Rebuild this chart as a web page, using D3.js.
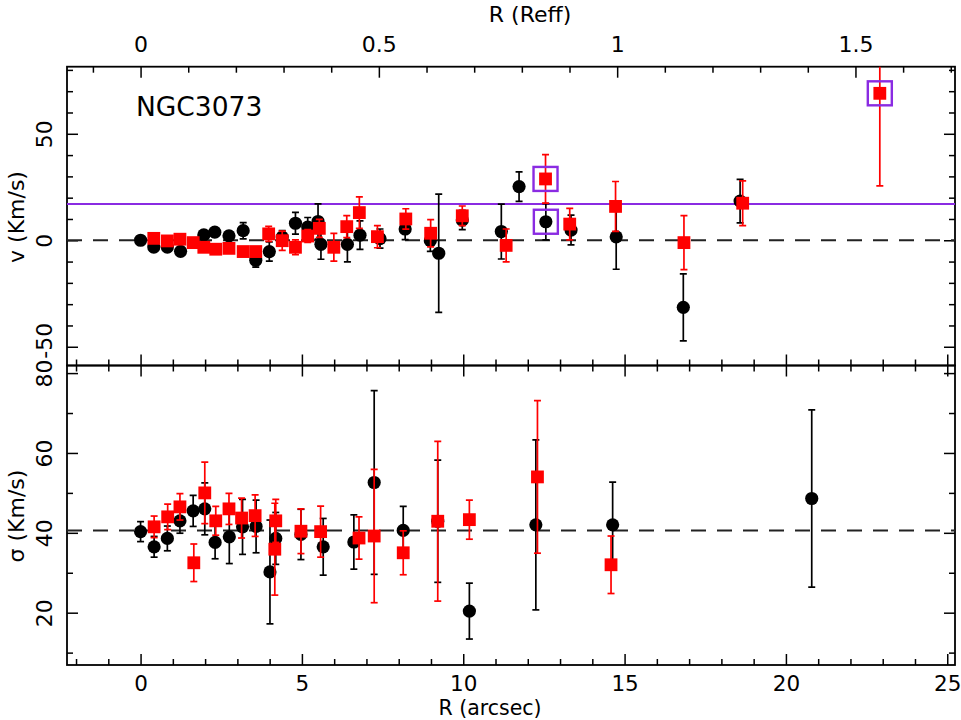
<!DOCTYPE html>
<html>
<head>
<meta charset="utf-8">
<script src="https://cdn.jsdelivr.net/npm/d3@7"></script>
<style>
  html, body { margin: 0; padding: 0; background: #fff; }
  svg { display: block; }
  text { font-family: "DejaVu Sans", sans-serif; fill: #000; }
</style>
</head>
<body>
<svg id="chart" width="961" height="720"></svg>
<script>
// ---------------- data ----------------
const galaxyName = "NGC3073";
const reffArcsec = 14.77;          // 1 Reff in arcsec
const vSystemic = 17;              // purple reference line (km/s)
const vZero = 0;                   // dashed line, top panel
const sigmaMean = 40.6;            // dashed line, bottom panel

// top panel: velocity, black circles
const vBlackR   = [0.00, 0.41, 0.83, 1.24, 1.96, 2.30, 2.74, 3.18, 3.57, 3.99, 4.39, 4.80, 5.18, 5.50, 5.59, 6.41, 6.80, 7.42, 8.20, 8.98, 9.24, 9.97, 11.18, 11.73, 12.56, 13.34, 14.74, 16.82, 18.58];
const vBlack    = [0.0, -3.2, -3.2, -5.2, 2.5, 3.8, 2.1, 4.5, -9.4, -5.3, 1.5, 8.0, 6.2, 8.8, -1.9, -1.9, 2.4, 0.8, 5.3, -0.2, -6.1, 9.5, 4.1, 25.2, 8.7, 4.8, 1.6, -31.5, 18.4];
const vBlackErr = [2.0, 2.0, 2.0, 2.0, 2.0, 2.0, 2.0, 3.8, 3.2, 4.5, 3.0, 5.1, 4.5, 8.3, 7.0, 8.2, 6.7, 4.5, 5.0, 5.0, 27.8, 4.5, 12.9, 6.9, 8.5, 7.0, 15.2, 15.7, 10.2];

// top panel: velocity, red squares
const vRedR   = [0.41, 0.83, 1.22, 1.63, 1.96, 2.33, 2.74, 3.18, 3.57, 3.97, 4.39, 4.80, 5.18, 5.54, 5.99, 6.39, 6.78, 7.34, 8.22, 8.99, 9.97, 11.33, 12.55, 13.30, 14.72, 16.84, 18.66, 22.91];
const vRed    = [0.9, -0.3, 0.5, -1.1, -3.3, -4.2, -3.8, -5.3, -5.3, 3.0, -0.2, -3.3, 2.0, 5.6, -3.3, 6.4, 13.0, 1.7, 10.0, 3.3, 11.5, -2.4, 28.8, 7.6, 15.9, -1.1, 17.4, 69.0];
const vRedErr = [2.0, 2.0, 2.0, 2.0, 2.0, 2.0, 2.0, 2.0, 2.0, 3.5, 4.5, 3.5, 3.0, 4.2, 6.5, 5.2, 7.4, 5.2, 4.8, 6.4, 4.6, 7.7, 11.4, 7.4, 11.7, 12.7, 10.5, 43.5];

// highlighted points (purple boxes)
const boxR = [12.55, 12.56, 22.91];
const boxV = [28.8, 8.7, 69.0];

// bottom panel: dispersion, black circles
const sBlackR   = [0.00, 0.42, 0.83, 1.22, 1.63, 1.99, 2.31, 2.75, 3.16, 3.58, 4.01, 4.19, 4.97, 5.66, 6.61, 7.24, 8.14, 9.21, 10.19, 12.25, 14.63, 20.80];
const sBlack    = [40.3, 36.5, 38.6, 43.0, 45.5, 46.0, 37.6, 39.0, 41.5, 41.6, 30.2, 38.6, 39.6, 36.5, 37.7, 52.6, 40.6, 42.9, 20.4, 42.0, 42.0, 48.6];
const sBlackErr = [2.5, 2.6, 3.1, 3.1, 3.9, 6.5, 4.1, 6.7, 6.9, 6.6, 13.0, 6.5, 6.3, 7.1, 6.8, 23.0, 6.0, 15.3, 7.0, 21.3, 10.7, 22.2];

// bottom panel: dispersion, red squares
const sRedR   = [0.42, 0.84, 1.22, 1.65, 1.99, 2.33, 2.74, 3.13, 3.55, 4.16, 4.19, 4.97, 5.58, 6.77, 7.24, 8.14, 9.21, 10.19, 12.30, 14.58];
const sRed    = [41.5, 44.0, 46.5, 32.5, 50.0, 43.0, 46.0, 43.7, 44.3, 35.9, 43.0, 40.4, 40.3, 38.7, 39.2, 35.0, 42.9, 43.3, 54.0, 32.0];
const sRedErr = [2.7, 3.2, 3.3, 4.7, 7.7, 3.6, 3.9, 5.0, 5.2, 11.5, 5.4, 5.6, 6.4, 5.3, 16.7, 5.5, 20.0, 4.9, 19.1, 7.2];

// tick values
const arcsecMinor = d3.range(-2, 26);
const arcsecMajor = [0, 5, 10, 15, 20, 25];
const reffMinor = d3.range(-1, 18).map(i => i / 10);
const reffMajor = [0, 0.5, 1, 1.5];
const vMinor = d3.range(-5, 9).map(i => i * 10);
const vMajor = [-50, 0, 50];
const sMinor = d3.range(1, 9).map(i => i * 10);
const sMajor = [20, 40, 60, 80];

// ---------------- layout ----------------
const L = 67, R = 955, T = 66.7, M = 365.5, B = 665;
const RED = "#ff0000", PURPLE = "#8a2be2";
const svg = d3.select("#chart");

const x = d3.scaleLinear().domain([-2.28, 25.24]).range([L, R]);
const xReff = d3.scaleLinear().domain([-2.28 / reffArcsec, 25.24 / reffArcsec]).range([L, R]);
const yTop = d3.scaleLinear().domain([-58.8, 81.5]).range([M, T]);
const yBot = d3.scaleLinear().domain([6.9, 81.9]).range([B, M]);

const defs = svg.append("defs");
defs.append("clipPath").attr("id", "clipTop").append("rect").attr("x", L).attr("y", T).attr("width", R - L).attr("height", M - T);
defs.append("clipPath").attr("id", "clipBot").append("rect").attr("x", L).attr("y", M).attr("width", R - L).attr("height", B - M);

const MAJ = 11, MIN = 6;
function ticks(axisGen, scale, values, size, tx, ty, fmt) {
  const g = svg.append("g").attr("transform", `translate(${tx},${ty})`)
    .call(axisGen(scale).tickValues(values).tickSize(size).tickPadding(0)
      .tickFormat(fmt || (() => "")));
  g.select(".domain").remove();
  g.selectAll("line").attr("stroke", "#000").attr("stroke-width", 1.5);
  return g;
}

// ---- bottom axis (arcsec) of bottom panel ----
const arcMinorOnly = arcsecMinor.filter(v => !arcsecMajor.includes(v));
ticks(d3.axisBottom, x, arcMinorOnly, -MIN, 0, B);
const gxb = ticks(d3.axisBottom, x, arcsecMajor, -MAJ, 0, B, d => String(d));
gxb.selectAll("text").attr("dy", null).attr("y", 26).attr("font-size", 21.5).attr("font-family", "DejaVu Sans");
// shared edge: ticks both ways
ticks(d3.axisBottom, x, arcMinorOnly, MIN, 0, M);
ticks(d3.axisBottom, x, arcsecMajor, MAJ, 0, M);
ticks(d3.axisBottom, x, arcMinorOnly, -MIN, 0, M);
ticks(d3.axisBottom, x, arcsecMajor, -MAJ, 0, M);

// ---- top axis (Reff) ----
ticks(d3.axisTop, xReff, reffMinor.filter(v => !reffMajor.includes(v)), -MIN, 0, T);
const gxt = ticks(d3.axisTop, xReff, reffMajor, -MAJ, 0, T, d => String(d));
gxt.selectAll("text").attr("dy", null).attr("y", -14.7).attr("font-size", 22).attr("font-family", "DejaVu Sans");

// ---- left / right axes ----
function yAxes(scale, minor, major) {
  const minorOnly = minor.filter(v => !major.includes(v));
  ticks(d3.axisLeft, scale, minorOnly, -MIN, L, 0);
  const gl = ticks(d3.axisLeft, scale, major, -MAJ, L, 0, d => String(d));
  gl.selectAll("text").attr("x", null).attr("dy", null).attr("text-anchor", "middle")
    .attr("font-size", 22).attr("font-family", "DejaVu Sans")
    .attr("transform", d => `translate(-15,${d < 0 ? -6.5 : 0}) rotate(-90)`);
  ticks(d3.axisRight, scale, minorOnly, -MIN, R, 0);
  ticks(d3.axisRight, scale, major, -MAJ, R, 0);
}
yAxes(yTop, vMinor, vMajor);
yAxes(yBot, sMinor, sMajor);

// ---- frames ----
svg.append("rect").attr("x", L).attr("y", T).attr("width", R - L).attr("height", M - T)
  .attr("fill", "none").attr("stroke", "#000").attr("stroke-width", 1.8);
svg.append("rect").attr("x", L).attr("y", M).attr("width", R - L).attr("height", B - M)
  .attr("fill", "none").attr("stroke", "#000").attr("stroke-width", 1.8);

// ---- axis titles ----
svg.append("text").attr("x", 530).attr("y", 22).attr("text-anchor", "middle").attr("font-size", 22).text("R (Reff)");
svg.append("text").attr("x", 490).attr("y", 714.8).attr("text-anchor", "middle").attr("font-size", 20.5).text("R (arcsec)");
svg.append("text").attr("transform", "translate(24,217) rotate(-90)").attr("text-anchor", "middle").attr("font-size", 22).text("v (Km/s)");
svg.append("text").attr("transform", "translate(24,516) rotate(-90)").attr("text-anchor", "middle").attr("font-size", 22).text("σ (Km/s)");
svg.append("text").attr("x", 136).attr("y", 116).attr("font-size", 26.5).text(galaxyName);

// ---- panel contents ----
const gTop = svg.append("g").attr("clip-path", "url(#clipTop)");
const gBot = svg.append("g").attr("clip-path", "url(#clipBot)");

gTop.append("line").attr("x1", L).attr("x2", R).attr("y1", yTop(vZero)).attr("y2", yTop(vZero))
  .attr("stroke", "#222").attr("stroke-width", 2).attr("stroke-dasharray", "15,11");
gTop.append("line").attr("x1", L).attr("x2", R).attr("y1", yTop(vSystemic)).attr("y2", yTop(vSystemic))
  .attr("stroke", PURPLE).attr("stroke-width", 2);
gBot.append("line").attr("x1", L).attr("x2", R).attr("y1", yBot(sigmaMean)).attr("y2", yBot(sigmaMean))
  .attr("stroke", "#222").attr("stroke-width", 2).attr("stroke-dasharray", "15,11");

function series(g, ys, rs, vs, es, color, shape) {
  const d = rs.map((r, i) => ({ r, v: vs[i], e: es[i] }));
  const eb = g.append("g").attr("stroke", color).attr("stroke-width", 1.7);
  d.forEach(p => {
    const cx = x(p.r), y1 = ys(p.v - p.e), y2 = ys(p.v + p.e);
    eb.append("line").attr("x1", cx).attr("x2", cx).attr("y1", y1).attr("y2", y2);
    eb.append("line").attr("x1", cx - 3.5).attr("x2", cx + 3.5).attr("y1", y1).attr("y2", y1);
    eb.append("line").attr("x1", cx - 3.5).attr("x2", cx + 3.5).attr("y1", y2).attr("y2", y2);
  });
  if (shape === "circle") {
    g.append("g").selectAll("circle").data(d).join("circle")
      .attr("cx", p => x(p.r)).attr("cy", p => ys(p.v)).attr("r", 6.6).attr("fill", color);
  } else {
    g.append("g").selectAll("rect").data(d).join("rect")
      .attr("x", p => x(p.r) - 6.4).attr("y", p => ys(p.v) - 6.4)
      .attr("width", 12.8).attr("height", 12.8).attr("fill", color);
  }
}

series(gTop, yTop, vBlackR, vBlack, vBlackErr, "#000", "circle");
series(gTop, yTop, vRedR, vRed, vRedErr, RED, "square");
series(gBot, yBot, sBlackR, sBlack, sBlackErr, "#000", "circle");
series(gBot, yBot, sRedR, sRed, sRedErr, RED, "square");

gTop.append("g").selectAll("rect").data(boxR.map((r, i) => ({ r, v: boxV[i] }))).join("rect")
  .attr("x", p => x(p.r) - 12).attr("y", p => yTop(p.v) - 12)
  .attr("width", 24).attr("height", 24)
  .attr("fill", "none").attr("stroke", PURPLE).attr("stroke-width", 2.4);
</script>
</body>
</html>
